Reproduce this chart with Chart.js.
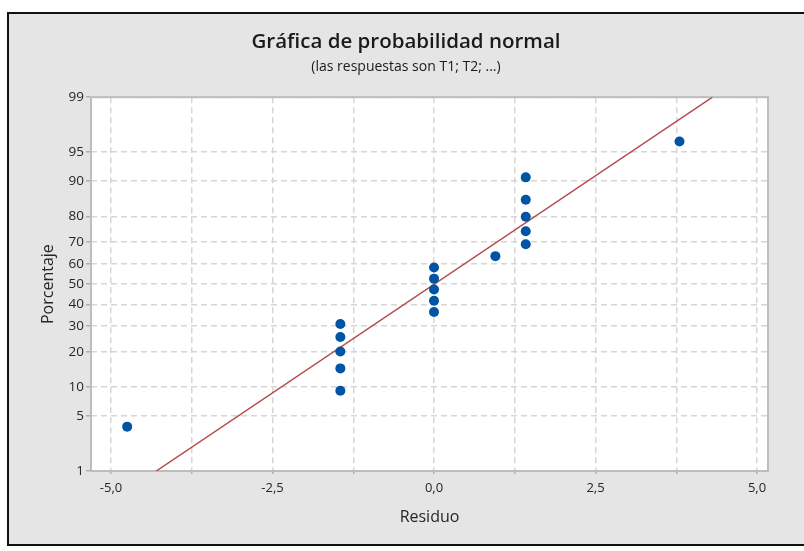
<!DOCTYPE html>
<html>
<head>
<meta charset="utf-8">
<title>Gráfica de probabilidad normal</title>
<script src="https://cdn.jsdelivr.net/npm/chart.js@4.4.1/dist/chart.umd.min.js"></script>
<style>
    html, body { margin: 0; padding: 0; background: #ffffff; }
    #wrap { position: relative; width: 804px; height: 551px; }
</style>
</head>
<body>
<div id="wrap"><canvas id="probChart" width="804" height="551"></canvas></div>
<script>
// ===== DATA =====
const residuals = [-4.75, -1.45, -1.45, -1.45, -1.45, -1.45, 0, 0, 0, 0, 0, 0.95, 1.42, 1.42, 1.42, 1.42, 1.42, 3.8];
const percents  = [3.8, 9.2, 14.7, 20.1, 25.5, 31.0, 36.4, 41.8, 47.3, 52.7, 58.2, 63.6, 69.0, 74.5, 79.9, 85.3, 90.8, 96.2];

// fitted normal line, end points
const fitResiduals = [-4.30, 4.31];
const fitPercents  = [1, 99];

const yTickPercents = [1, 5, 10, 20, 30, 40, 50, 60, 70, 80, 90, 95, 99];
const xTickValues   = [-5, -3.75, -2.5, -1.25, 0, 1.25, 2.5, 3.75, 5];
const xLabelValues  = [-5, -2.5, 0, 2.5, 5];

// ===== inverse normal CDF (Acklam) - turns percentages into probit units =====
function probit(p) {
    const a = [-3.969683028665376e+01, 2.209460984245205e+02, -2.759285104469687e+02, 1.383577518672690e+02, -3.066479806614716e+01, 2.506628277459239e+00];
    const b = [-5.447609879822406e+01, 1.615858368580409e+02, -1.556989798598866e+02, 6.680131188771972e+01, -1.328068155288572e+01];
    const c = [-7.784894002430293e-03, -3.223964580411365e-01, -2.400758277161838e+00, -2.549732539343734e+00, 4.374664141464968e+00, 2.938163982698783e+00];
    const d = [7.784695709041462e-03, 3.224671290700398e-01, 2.445134137142996e+00, 3.754408661907416e+00];
    const pl = 0.02425;
    let q, r;
    if (p < pl) {
        q = Math.sqrt(-2 * Math.log(p));
        return (((((c[0]*q+c[1])*q+c[2])*q+c[3])*q+c[4])*q+c[5]) / ((((d[0]*q+d[1])*q+d[2])*q+d[3])*q+1);
    }
    if (p <= 1 - pl) {
        q = p - 0.5; r = q * q;
        return (((((a[0]*r+a[1])*r+a[2])*r+a[3])*r+a[4])*r+a[5])*q / (((((b[0]*r+b[1])*r+b[2])*r+b[3])*r+b[4])*r+1);
    }
    q = Math.sqrt(-2 * Math.log(1 - p));
    return -(((((c[0]*q+c[1])*q+c[2])*q+c[3])*q+c[4])*q+c[5]) / ((((d[0]*q+d[1])*q+d[2])*q+d[3])*q+1);
}
const z = pct => probit(pct / 100);

const pointData = residuals.map((r, i) => ({ x: r, y: z(percents[i]) }));
const fitData = fitResiduals.map((r, i) => ({ x: r, y: z(fitPercents[i]) }));

// ===== panel background, border and plot frame =====
const panelPlugin = {
    id: 'panel',
    beforeDraw(chart) {
        const ctx = chart.ctx;
        const area = chart.chartArea;
        ctx.save();
        ctx.fillStyle = '#ffffff';
        ctx.fillRect(0, 0, chart.width, chart.height);
        ctx.fillStyle = '#e5e5e5';
        ctx.fillRect(8, 13, chart.width, 532);
        ctx.strokeStyle = '#111111';
        ctx.lineWidth = 2;
        ctx.strokeRect(8, 13, chart.width, 532);
        ctx.fillStyle = '#ffffff';
        ctx.fillRect(area.left, area.top, area.right - area.left, area.bottom - area.top);
        ctx.restore();
    },
    beforeDatasetsDraw(chart) {
        const ctx = chart.ctx;
        const area = chart.chartArea;
        ctx.save();
        ctx.strokeStyle = '#bdbdbd';
        ctx.lineWidth = 2;
        ctx.strokeRect(area.left, area.top, area.right - area.left, area.bottom - area.top);
        ctx.restore();
    }
};

const textColor = '#262626';
Chart.defaults.font.family = "'Open Sans', 'Noto Sans', sans-serif";
Chart.defaults.color = textColor;

new Chart(document.getElementById('probChart'), {
    type: 'scatter',
    data: {
        datasets: [
            {
                type: 'line',
                label: 'Ajuste',
                data: fitData,
                borderColor: '#b5484a',
                borderWidth: 1.5,
                pointRadius: 0,
                fill: false,
                order: 2
            },
            {
                label: 'Residuo',
                data: pointData,
                backgroundColor: '#0054a4',
                borderColor: '#0054a4',
                pointRadius: 5,
                pointBorderWidth: 0,
                order: 1
            }
        ]
    },
    options: {
        responsive: false,
        animation: false,
        layout: { padding: { left: 8, top: 0, right: 0, bottom: 0 } },
        plugins: {
            legend: { display: false },
            tooltip: { enabled: false },
            title: {
                display: true,
                text: 'Gráfica de probabilidad normal',
                color: '#1a1a1a',
                font: { size: 20.5, weight: 600 },
                padding: { top: 30, bottom: 2 }
            },
            subtitle: {
                display: true,
                text: '(las respuestas son T1; T2; ...)',
                color: '#1a1a1a',
                font: { size: 14, weight: 'normal' },
                padding: { top: 2, bottom: 21.8 }
            }
        },
        scales: {
            x: {
                type: 'linear',
                min: -5.31,
                max: 5.17,
                afterBuildTicks(scale) {
                    scale.ticks = xTickValues.map(v => ({ value: v }));
                },
                afterFit(scale) { scale.height = 80; },
                ticks: {
                    font: { size: 13 },
                    color: textColor,
                    padding: 4,
                    maxRotation: 0,
                    autoSkip: false,
                    callback: value => xLabelValues.includes(value) ? value.toFixed(1).replace('.', ',') : ''
                },
                grid: {
                    color: '#d6d6d6',
                    lineWidth: 1.5,
                    tickLength: 5,
                    tickColor: '#b0b0b0',
                    tickBorderDash: [3, 2]
                },
                border: { display: false, dash: [6, 4] },
                title: {
                    display: true,
                    text: 'Residuo',
                    color: textColor,
                    font: { size: 16 },
                    padding: { top: 0, bottom: 24.4 }
                }
            },
            y: {
                type: 'linear',
                min: z(1),
                max: z(99),
                afterBuildTicks(scale) {
                    scale.ticks = yTickPercents.map(p => ({ value: z(p) }));
                },
                afterFit(scale) { scale.width = 83; },
                ticks: {
                    font: { size: 13.5 },
                    color: textColor,
                    padding: 2,
                    autoSkip: false,
                    callback: (value, index) => String(yTickPercents[index])
                },
                grid: {
                    color: '#d6d6d6',
                    lineWidth: 1.5,
                    tickLength: 5,
                    tickColor: '#b0b0b0',
                    tickBorderDash: []
                },
                border: { display: false, dash: [6, 4] },
                title: {
                    display: true,
                    text: 'Porcentaje',
                    color: textColor,
                    font: { size: 16 },
                    padding: { top: 30.4, bottom: 0 }
                }
            },
            // empty right-hand box: keeps the plot edge at the reference spot
            yRight: {
                type: 'linear',
                position: 'right',
                display: true,
                afterFit(scale) { scale.width = 36; },
                ticks: { display: false },
                grid: { display: false, drawTicks: false },
                border: { display: false }
            }
        }
    },
    plugins: [panelPlugin]
});
</script>
</body>
</html>
